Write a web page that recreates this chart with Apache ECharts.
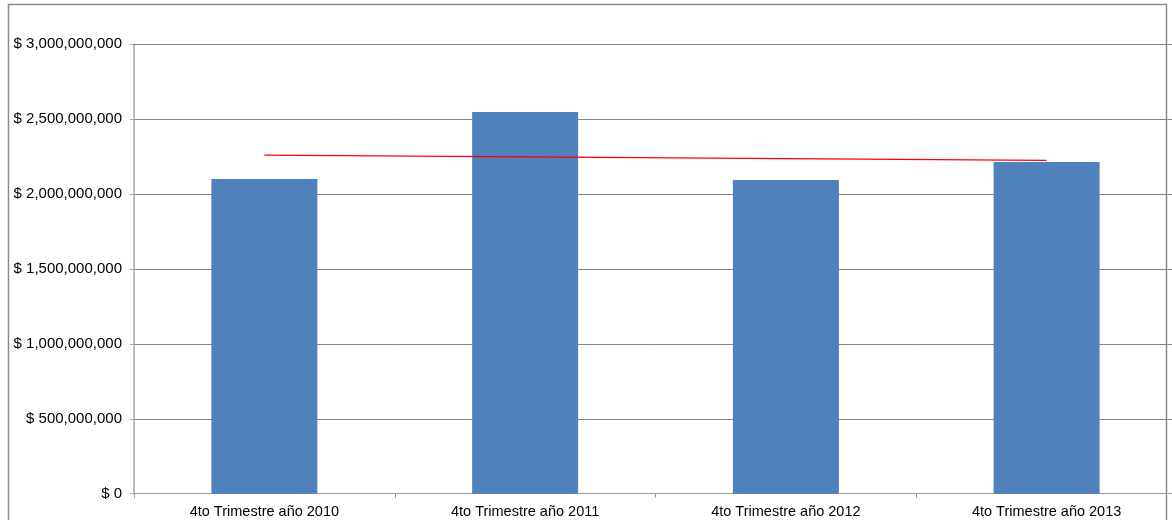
<!DOCTYPE html>
<html>
<head>
<meta charset="utf-8">
<script src="https://cdn.jsdelivr.net/npm/echarts@6/dist/echarts.min.js"></script>
<style>
html,body{margin:0;padding:0;background:#fff;}
#chart{width:1172px;height:520px;}
</style>
</head>
<body>
<div id="chart"></div>
<script>
const categories = ["4to Trimestre año 2010", "4to Trimestre año 2011", "4to Trimestre año 2012", "4to Trimestre año 2013"];
const barValues = [2099000000, 2546000000, 2093000000, 2213000000];
const trendValues = [2259000000, null, null, 2224000000];
const yTicks = [0, 500000000, 1000000000, 1500000000, 2000000000, 2500000000, 3000000000];

function fmt(v) {
  return "$ " + Math.round(v).toString().replace(/\B(?=(\d{3})+(?!\d))/g, ",");
}

const chart = echarts.init(document.getElementById('chart'), null, {renderer: 'canvas'});
chart.setOption({
  animation: false,
  backgroundColor: '#ffffff',
  textStyle: {fontFamily: 'Liberation Sans, Arial, sans-serif'},
  graphic: [{
    type: 'rect',
    shape: {x: 8.5, y: 4.5, width: 1158, height: 530},
    style: {fill: 'none', stroke: '#8c8c8c', lineWidth: 1.5},
    z: -1
  }],
  grid: {left: 134, top: 44, width: 1043, height: 449.7, containLabel: false, outerBoundsMode: 'none'},
  xAxis: {
    type: 'category',
    data: categories,
    axisLine: {lineStyle: {color: '#9a9a9a', width: 1}},
    axisTick: {show: true, length: 4, lineStyle: {color: '#9a9a9a'}},
    axisLabel: {color: '#000', fontSize: 14.5, margin: 11, fontFamily: 'Liberation Sans, Arial, sans-serif'},
    splitLine: {show: false}
  },
  yAxis: {
    type: 'value',
    min: yTicks[0],
    max: yTicks[yTicks.length - 1],
    interval: yTicks[1] - yTicks[0],
    axisLine: {show: true, lineStyle: {color: '#a8a8a8', width: 1.5}},
    axisTick: {show: true, length: 4, lineStyle: {color: '#a8a8a8'}},
    axisLabel: {color: '#000', fontSize: 15, margin: 12, formatter: fmt, fontFamily: 'Liberation Sans, Arial, sans-serif'},
    splitLine: {show: true, lineStyle: {color: '#868686', width: 1}}
  },
  series: [{
    type: 'bar',
    data: barValues,
    barWidth: 106,
    itemStyle: {color: '#4F81BD'},
    z: 2
  }, {
    type: 'line',
    data: trendValues,
    connectNulls: true,
    symbol: 'none',
    lineStyle: {color: '#ff0000', width: 1.3},
    z: 3
  }]
});
</script>
</body>
</html>
